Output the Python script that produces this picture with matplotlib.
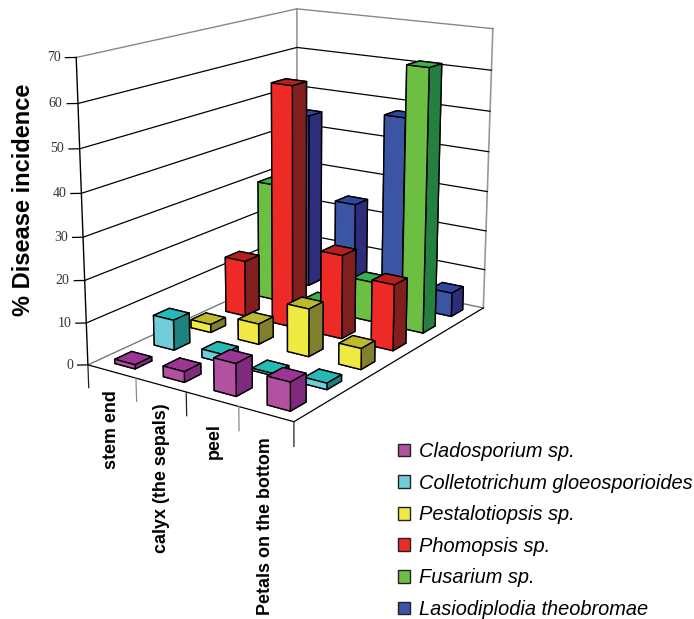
import matplotlib
matplotlib.use("Agg")
import matplotlib.pyplot as plt
from matplotlib.patches import Patch
from mpl_toolkits.mplot3d import proj3d

categories = ["stem end", "calyx (the sepals)", "peel", "Petals on the bottom"]
species = ["Cladosporium sp.", "Colletotrichum gloeosporioides", "Pestalotiopsis sp.",
           "Phomopsis sp.", "Fusarium sp.", "Lasiodiplodia theobromae"]
cladosporium = [1, 2.5, 7.5, 6.5]
colletotrichum = [7.3, 2, 0.5, 1.5]
pestalotiopsis = [2, 5, 11.5, 5]
phomopsis = [14, 59, 20.5, 16]
fusarium = [30, 2, 10, 64]
lasiodiplodia = [45, 24, 48, 6]
values = [cladosporium, colletotrichum, pestalotiopsis, phomopsis, fusarium, lasiodiplodia]

front = ["#B1519F", "#71CDD8", "#EFE942", "#EE2A27", "#6DBF44", "#3B54A4"]
side = ["#7F2A7F", "#1F8080", "#80802F", "#811F1E", "#24803F", "#2E2D7C"]
top = ["#9C3593", "#27B9B5", "#BDB92E", "#B5201F", "#37B34A", "#3047A0"]

W, H = 694, 619
fig = plt.figure(figsize=(W / 100, H / 100), dpi=100)
ax = fig.add_subplot(projection="3d", computed_zorder=False)
ax.set_xlim(0, 4, view_margin=0)
ax.set_ylim(0, 6, view_margin=0)
ax.set_zlim(0, 70, view_margin=0)
ax.set_xticks([])
ax.set_yticks([])
ax.set_zticks([])
ax.view_init(elev=15.3, azim=-55.9)
ax.set_proj_type("persp", focal_length=0.552)
ax.set_box_aspect((0.8, 1.199, 1))
ax.set_position([30.4 / W, 161.4 / H, 516.4 / W, 516.4 / H])
ax.set_axis_off()

# frame
ax.plot([0, 0], [0, 0], [0, 70], color="k", lw=1, zorder=1)
ax.plot([0, 0], [6, 6], [0, 70], color="#999999", lw=1.2, zorder=1)
ax.plot([4, 4], [6, 6], [0, 70], color="#999999", lw=1.2, zorder=1)
ax.plot([0, 0, 4], [0, 6, 6], [70, 70, 70], color="#888888", lw=1, zorder=1)
ax.plot([0, 0, 4], [0, 6, 6], [0, 0, 0], color="#777777", lw=1, zorder=1)
ax.plot([0, 4, 4], [0, 0, 6], [0, 0, 0], color="k", lw=0.9, zorder=1)
for z in range(10, 70, 10):
    ax.plot([0, 0, 4], [0, 6, 6], [z, z, z], color="k", lw=0.9, zorder=1)
M = ax.get_proj()
for z in range(0, 80, 10):
    ax.plot([0, -0.13], [0, -0.1], [z, z], color="k", lw=0.9, zorder=1)
    px, py, _ = proj3d.proj_transform(-0.19, -0.14, z, M)
    ax.text2D(px, py, str(z), transform=ax.transData, ha="right", va="center",
              family="Liberation Serif", fontsize=10, color="#333333")
tick_colors = ["#222222", "#888888", "#222222", "#888888", "#222222"]
for i in range(5):
    ax.plot([i, i], [0, 0], [0, -5.5], color=tick_colors[i], lw=0.9, zorder=1)

# back rows first, left columns first
order = 2
for j in range(5, -1, -1):
    for i in range(4):
        face = [top[j], top[j], front[j], front[j], side[j], side[j]]
        ax.bar3d(i + 0.32, j + 0.29, 0, 0.42, 0.42, values[j][i], color=face, shade=False,
                 edgecolor="k", linewidth=1, zorder=order)
        order += 1

label_x = [112, 162, 214, 266]
label_y = [390, 403, 423, 437]
for name, lx, ly in zip(categories, label_x, label_y):
    fig.text(lx / W, 1 - ly / H, name, rotation=90, ha="center", va="top",
             family="Liberation Sans", weight="bold", fontsize=12.9)

fig.text(24 / W, 1 - 200 / H, "% Disease incidence", rotation=90, ha="center", va="center",
         family="Liberation Sans", weight="bold", fontsize=17)
handles = [Patch(facecolor=c, edgecolor="#222222", linewidth=1) for c in front]
fig.legend(handles, species, loc="upper left", bbox_to_anchor=(398 / W, 1 - 442 / H), frameon=False,
           prop={"family": "Liberation Sans", "style": "italic", "size": 14.4}, borderpad=0, borderaxespad=0,
           labelspacing=0.63, handlelength=0.6, handleheight=0.6, handletextpad=0.45)

fig.savefig("out.png", dpi=100)
